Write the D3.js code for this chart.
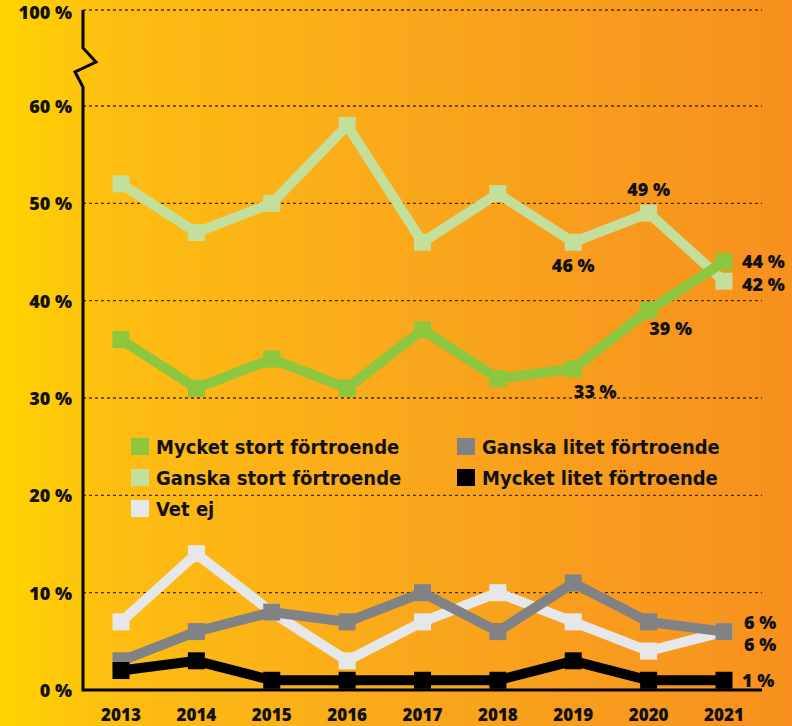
<!DOCTYPE html>
<html><head><meta charset="utf-8">
<script src="https://cdn.jsdelivr.net/npm/d3@7"></script>
<style>html,body{margin:0;padding:0;background:#fff}svg{display:block}</style>
</head><body>
<svg id="chart" width="792" height="726"></svg>
<script>
const years = [2013,2014,2015,2016,2017,2018,2019,2020,2021];
const mycketStort = [36,31,34,31,37,32,33,39,44];
const ganskaStort = [52,47,50,58,46,51,46,49,42];
const vetEj = [7,14,8,3,7,10,7,4,6];
const ganskaLitet = [3,6,8,7,10,6,11,7,6];
const mycketLitet = [2,3,1,1,1,1,3,1,1];
const yTicks = [0,10,20,30,40,50,60];
const topTick = 100;

const series = [
  {name:"Vet ej", values:vetEj, color:"#E6E7E8"},
  {name:"Ganska litet förtroende", values:ganskaLitet, color:"#808285"},
  {name:"Mycket litet förtroende", values:mycketLitet, color:"#000000"},
  {name:"Ganska stort förtroende", values:ganskaStort, color:"#C4DF9B"},
  {name:"Mycket stort förtroende", values:mycketStort, color:"#8DC63F"}
];

const svg = d3.select("#chart");
const defs = svg.append("defs");
const grad = defs.append("linearGradient").attr("id","bg").attr("x1","0").attr("x2","1").attr("y1","0").attr("y2","0");
grad.append("stop").attr("offset","0").attr("stop-color","#FFD400");
grad.append("stop").attr("offset","0.15").attr("stop-color","#FDBD12");
grad.append("stop").attr("offset","0.55").attr("stop-color","#F9A61C");
grad.append("stop").attr("offset","1").attr("stop-color","#F7901E");
svg.append("rect").attr("width",792).attr("height",726).attr("fill","url(#bg)");

const x = d3.scalePoint().domain(years).range([121,724]);
const y = d3.scaleLinear().domain([0,60]).range([690,106]);
const yTop = 10;
const axisX = 83, gridEnd = 762;

// gridlines
const grid = svg.append("g");
yTicks.filter(d=>d>0).forEach(t=>{
  grid.append("line").attr("x1",axisX).attr("x2",gridEnd).attr("y1",y(t)).attr("y2",y(t))
    .attr("stroke","#4a300c").attr("stroke-width",1.4).attr("stroke-dasharray","3,3");
});
grid.append("line").attr("x1",axisX).attr("x2",gridEnd).attr("y1",yTop).attr("y2",yTop)
  .attr("stroke","#4a300c").attr("stroke-width",1.4).attr("stroke-dasharray","3,3");

// axes with break
svg.append("path").attr("d",`M${axisX},${yTop} L${axisX},48 L96,62 L75,72 L${axisX},87 L${axisX},690 L${gridEnd},690`)
  .attr("fill","none").attr("stroke","#000").attr("stroke-width",3).attr("stroke-linejoin","miter");

const labelFont = "'Open Sans', Lato, sans-serif";
// y tick labels
const yl = svg.append("g").attr("font-family",labelFont).attr("font-weight",800).attr("font-size",18).attr("fill","#111").attr("text-anchor","end");
yTicks.forEach(t=>{
  yl.append("text").attr("x",72).attr("y",y(t)+7).text(t+" %");
});
yl.append("text").attr("x",72).attr("y",yTop+9).text(topTick+" %");

// x tick labels
const xl = svg.append("g").attr("font-family",labelFont).attr("font-weight",800).attr("font-size",17).attr("fill","#111").attr("text-anchor","middle");
years.forEach(yr=>{ xl.append("text").attr("x",x(yr)).attr("y",721).text(yr); });

// lines
const line = d3.line().x((d,i)=>x(years[i])).y(d=>y(d));
series.forEach(s=>{
  const g = svg.append("g");
  g.append("path").attr("d",line(s.values)).attr("fill","none").attr("stroke",s.color).attr("stroke-width",10).attr("stroke-linejoin","miter");
  g.selectAll("rect").data(s.values).join("rect")
    .attr("x",(d,i)=>x(years[i])-8.5).attr("y",d=>y(d)-8.5).attr("width",17).attr("height",17).attr("fill",s.color);
});

// value labels
const vl = svg.append("g").attr("font-family",labelFont).attr("font-weight",800).attr("font-size",18).attr("fill","#111");
const labels = [
  {v:mycketStort[8], i:8, dx:18, dy:6, a:"start"},
  {v:ganskaStort[8], i:8, dx:18, dy:10, a:"start"},
  {v:ganskaStort[7], i:7, dx:0, dy:-17, a:"middle"},
  {v:ganskaStort[6], i:6, dx:0, dy:30, a:"middle"},
  {v:mycketStort[7], i:7, dx:22, dy:25, a:"middle"},
  {v:mycketStort[6], i:6, dx:22, dy:29, a:"middle"},
  {v:ganskaLitet[8], i:8, dx:20, dy:-3, a:"start"},
  {v:vetEj[8], i:8, dx:20, dy:19, a:"start"},
  {v:mycketLitet[8], i:8, dx:18, dy:7, a:"start"}
];
labels.forEach(l=>{
  vl.append("text").attr("x",x(years[l.i])+l.dx).attr("y",y(l.v)+l.dy).attr("text-anchor",l.a).text(l.v+" %");
});

// legend
const legendItems = [
  {s:series[4], col:0, row:0},
  {s:series[3], col:0, row:1},
  {s:series[0], col:0, row:2},
  {s:series[1], col:1, row:0},
  {s:series[2], col:1, row:1}
];
const lg = svg.append("g").attr("font-family","'DejaVu Sans Condensed', 'DejaVu Sans', sans-serif").attr("font-stretch","condensed").attr("font-weight",700).attr("font-size",20).attr("fill","#111");
legendItems.forEach(it=>{
  const lx = it.col===0 ? 131 : 457;
  const ly = 438 + it.row*31;
  lg.append("rect").attr("x",lx).attr("y",ly).attr("width",18).attr("height",17).attr("fill",it.s.color);
  lg.append("text").attr("x",lx+25).attr("y",ly+16).text(it.s.name);
});
</script>
</body></html>
